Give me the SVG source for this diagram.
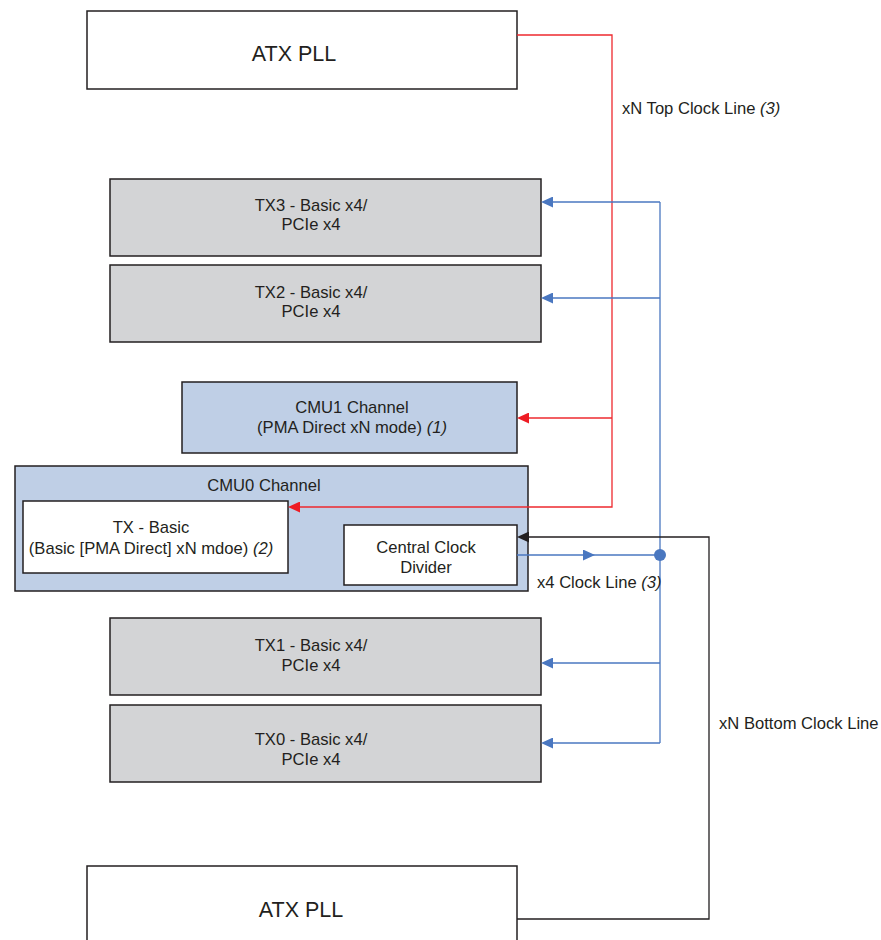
<svg xmlns="http://www.w3.org/2000/svg" width="881" height="940" viewBox="0 0 881 940">
<style>
text{font-family:"Liberation Sans",Arial,sans-serif;fill:#231f20}
.big{font-size:21.5px}
.t{font-size:16.6px}
.box{stroke:#231f20;stroke-width:1.5}
.w{fill:#fff}
.g{fill:#d3d4d6}
.b{fill:#bfcfe6}
.red{fill:none;stroke:#ee2a2f;stroke-width:1.3}
.blu{fill:none;stroke:#4a77c0;stroke-width:1.3}
.blk{fill:none;stroke:#231f20;stroke-width:1.3}
</style>
<defs>
<marker id="ar" markerWidth="12" markerHeight="11" refX="0" refY="5.5" orient="auto" markerUnits="userSpaceOnUse"><path d="M0,0 L12,5.5 L0,11 Z" fill="#ee1c24"/></marker>
<marker id="ab" markerWidth="12" markerHeight="11" refX="0" refY="5.5" orient="auto" markerUnits="userSpaceOnUse"><path d="M0,0 L12,5.5 L0,11 Z" fill="#4a77c0"/></marker>
<marker id="ak" markerWidth="12" markerHeight="11" refX="0" refY="5.5" orient="auto" markerUnits="userSpaceOnUse"><path d="M0,0 L12,5.5 L0,11 Z" fill="#231f20"/></marker>
</defs>
<g id="atx-top"><rect class="box w" x="87" y="11" width="430" height="78"/><text class="big" x="294" y="61" text-anchor="middle">ATX PLL</text></g>
<g id="tx3"><rect class="box g" x="110" y="179" width="431" height="77"/><text class="t" x="311" y="211" text-anchor="middle">TX3 - Basic x4/</text><text class="t" x="311" y="230" text-anchor="middle">PCIe x4</text></g>
<g id="tx2"><rect class="box g" x="110" y="265" width="431" height="77"/><text class="t" x="311" y="298" text-anchor="middle">TX2 - Basic x4/</text><text class="t" x="311" y="317" text-anchor="middle">PCIe x4</text></g>
<g id="cmu1"><rect class="box b" x="182" y="382" width="335" height="71"/><text class="t" x="352" y="413" text-anchor="middle">CMU1 Channel</text><text class="t" x="352" y="433" text-anchor="middle">(PMA Direct xN mode) <tspan font-style="italic">(1)</tspan></text></g>
<g id="cmu0"><rect class="box b" x="15" y="466" width="513" height="125"/><text class="t" x="264" y="491" text-anchor="middle">CMU0 Channel</text></g>
<g id="tx-basic"><rect class="box w" x="23" y="501" width="265" height="72"/><text class="t" x="151" y="533" text-anchor="middle">TX - Basic</text><text class="t" x="151" y="554" text-anchor="middle">(Basic [PMA Direct] xN mdoe) <tspan font-style="italic">(2)</tspan></text></g>
<g id="ccd"><rect class="box w" x="344" y="525" width="173" height="60"/><text class="t" x="426" y="553" text-anchor="middle">Central Clock</text><text class="t" x="426" y="573" text-anchor="middle">Divider</text></g>
<g id="tx1"><rect class="box g" x="110" y="618" width="431" height="77"/><text class="t" x="311" y="651" text-anchor="middle">TX1 - Basic x4/</text><text class="t" x="311" y="671" text-anchor="middle">PCIe x4</text></g>
<g id="tx0"><rect class="box g" x="110" y="705" width="431" height="77"/><text class="t" x="311" y="745" text-anchor="middle">TX0 - Basic x4/</text><text class="t" x="311" y="765" text-anchor="middle">PCIe x4</text></g>
<g id="atx-bottom"><rect class="box w" x="87" y="866" width="430" height="90"/><text class="big" x="301" y="917" text-anchor="middle">ATX PLL</text></g>
<g id="connectors">
<path class="red" d="M517,35 H612 V507 H300" marker-end="url(#ar)"/>
<path class="red" d="M612,418 H529" marker-end="url(#ar)"/>
<path class="blu" d="M660,202 V743"/>
<path class="blu" d="M660,202 H553" marker-end="url(#ab)"/>
<path class="blu" d="M660,298 H553" marker-end="url(#ab)"/>
<path class="blu" d="M660,663 H553" marker-end="url(#ab)"/>
<path class="blu" d="M660,743 H553" marker-end="url(#ab)"/>
<path class="blu" d="M517,555 H583" marker-end="url(#ab)"/>
<path class="blu" d="M590,555 H660"/>
<circle cx="660" cy="555" r="6" fill="#4a77c0"/>
<path class="blk" d="M517,919 H709 V537 H529" marker-end="url(#ak)"/>
<text class="t" x="622" y="114">xN Top Clock Line <tspan font-style="italic">(3)</tspan></text>
<text class="t" x="537" y="588">x4 Clock Line <tspan font-style="italic">(3)</tspan></text>
<text class="t" x="719" y="729">xN Bottom Clock Line</text>
</g>
</svg>
